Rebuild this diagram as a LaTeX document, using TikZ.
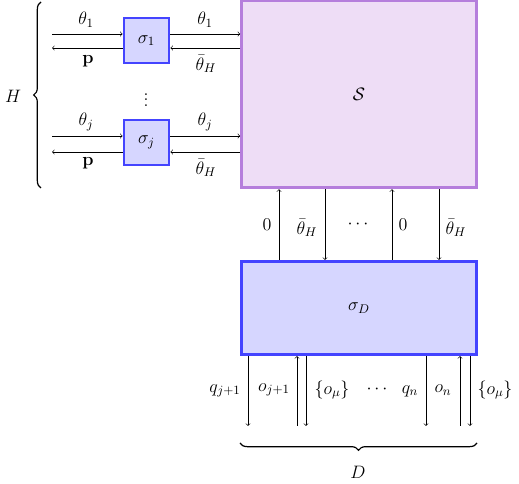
\RequirePackage{fix-cm}
\documentclass[tikz,border=0pt]{standalone}
\usetikzlibrary{decorations.pathreplacing}
\definecolor{sfill}{HTML}{EEDDF6}
\definecolor{sdraw}{HTML}{B57EDC}
\definecolor{bfill}{HTML}{D6D6FF}
\definecolor{bdraw}{HTML}{4444FF}
\begin{document}
\begin{tikzpicture}[x=0.75pt,y=-0.75pt,
  every node/.append style={font=\fontsize{13.5}{16}\selectfont},
  sbox/.style={draw=sdraw,fill=sfill,line width=2pt,inner sep=0pt},
  bbox/.style={draw=bdraw,fill=bfill,line width=2pt,inner sep=0pt},
  arr/.style={->,line width=0.45pt},
  bracestyle/.style={decorate,decoration={brace,amplitude=5.5pt},line width=0.9pt},
  lbl/.style={inner sep=1pt}]
\useasboundingbox (0,0) rectangle (519,484);
% boxes
\node[sbox,minimum width=176.25pt,minimum height=140pt] (S) at (359,94.5) {$\mathcal{S}$};
\node[bbox,minimum width=33.75pt,minimum height=33.75pt] (s1) at (146.5,40.5) {$\sigma_1$};
\node[bbox,minimum width=33.75pt,minimum height=33.75pt] (sj) at (146.5,142.5) {$\sigma_j$};
\node[bbox,minimum width=176.25pt,minimum height=70pt] (D) at (359,308) {$\sigma_D$};
% left coordinates
\coordinate (a1) at (52,34);
\coordinate (b1) at (52,48);
\coordinate (aj) at (52,136);
\coordinate (bj) at (52,152);
% row 1
\draw[arr] (a1) -- (s1.west |- a1);
\draw[arr] (s1.west |- b1) -- (b1);
\draw[arr] (s1.east |- a1) -- (S.west |- a1);
\draw[arr] (S.west |- b1) -- (s1.east |- b1);
\node[lbl] (t1l) at (86,20) {$\theta_1$};
\node[lbl] (p1) at (88,61) {$\mathbf{p}$};
\node[lbl] (t1r) at (205,20) {$\theta_1$};
\node[lbl] (h1r) at (206,64) {$\bar\theta_H$};
% row j
\draw[arr] (aj) -- (sj.west |- aj);
\draw[arr] (sj.west |- bj) -- (bj);
\draw[arr] (sj.east |- aj) -- (S.west |- aj);
\draw[arr] (S.west |- bj) -- (sj.east |- bj);
\node[lbl] (tjl) at (86,122) {$\theta_j$};
\node[lbl] (pj) at (88,163) {$\mathbf{p}$};
\node[lbl] (tjr) at (205,122) {$\theta_j$};
\node[lbl] (hjr) at (206,168) {$\bar\theta_H$};
\node[lbl] (vd) at (146,96) {$\vdots$};
% H brace
\coordinate (hb1) at (41,188);
\coordinate (hb2) at (41,2);
\draw[bracestyle] (hb1) -- (hb2);
\node[lbl] (Hl) at (13,96) {$H$};
% S - D arrows
\draw[arr] (D.north -| 279,0) -- (S.south -| 279,0);
\draw[arr] (S.south -| 325,0) -- (D.north -| 325,0);
\draw[arr] (D.north -| 392,0) -- (S.south -| 392,0);
\draw[arr] (S.south -| 439,0) -- (D.north -| 439,0);
\node[lbl] (z1) at (267,225) {$0$};
\node[lbl] (h2) at (307,228) {$\bar\theta_H$};
\node[lbl] (dd1) at (358,225) {$\cdots$};
\node[lbl] (z2) at (403,225) {$0$};
\node[lbl] (h3) at (456,228) {$\bar\theta_H$};
% bottom arrows
\coordinate (e1) at (248,426);
\coordinate (e2) at (297,426);
\coordinate (e3) at (306,426);
\coordinate (e4) at (426,426);
\coordinate (e5) at (460,426);
\coordinate (e6) at (470,426);
\draw[arr] (D.south -| e1) -- (e1);
\draw[arr] (e2) -- (D.south -| e2);
\draw[arr] (D.south -| e3) -- (e3);
\draw[arr] (D.south -| e4) -- (e4);
\draw[arr] (e5) -- (D.south -| e5);
\draw[arr] (D.south -| e6) -- (e6);
\node[lbl] (q1) at (225,391) {$q_{j+1}$};
\node[lbl] (o1) at (274,390) {$o_{j+1}$};
\node[lbl] (m1) at (332,390) {$\{o_\mu\}$};
\node[lbl] (dd2) at (377,390) {$\cdots$};
\node[lbl] (qn) at (410,391) {$q_n$};
\node[lbl] (on) at (443,390) {$o_n$};
\node[lbl] (m2) at (495,390) {$\{o_\mu\}$};
% D brace
\coordinate (db1) at (477,443);
\coordinate (db2) at (240,443);
\draw[bracestyle] (db1) -- (db2);
\node[lbl] (Dl) at (358,472) {$D$};
\end{tikzpicture}
\end{document}
